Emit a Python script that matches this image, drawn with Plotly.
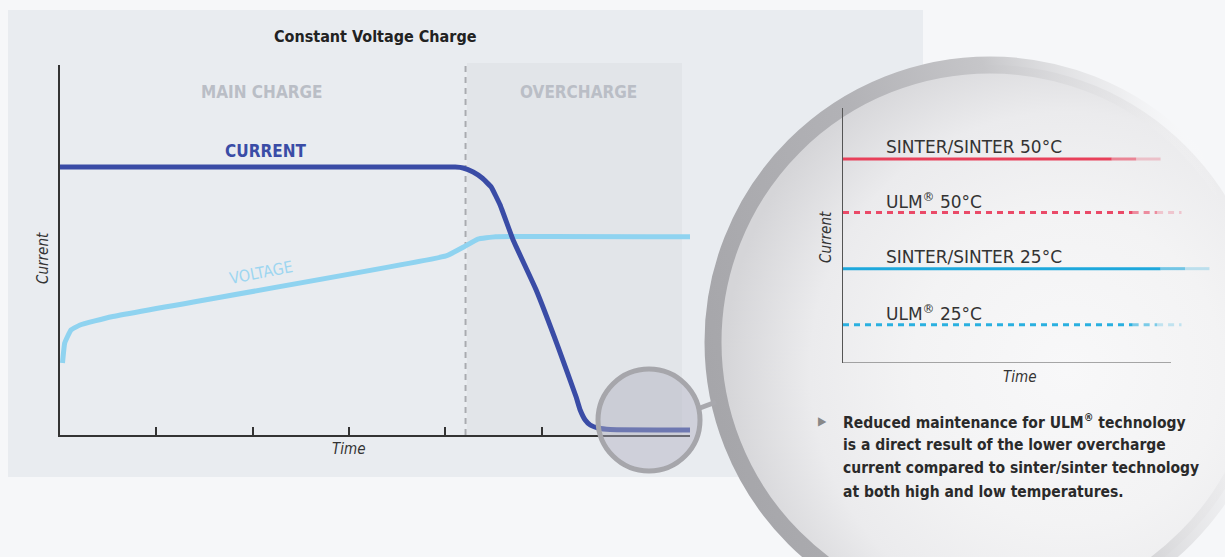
import base64
import plotly.graph_objects as go

W, H = 1225, 557

# ---------------- data ----------------
# main chart (time units, current/voltage units)
current_t = [0.0, 4.102, 4.185, 4.289, 4.382, 4.476, 4.569, 4.704, 4.943, 5.171, 5.358, 5.400, 5.452, 5.504, 5.587, 5.711, 6.54]
current_v = [7.24, 7.24, 7.216, 7.108, 6.946, 6.703, 6.216, 5.270, 3.919, 2.378, 1.027, 0.676, 0.405, 0.270, 0.189, 0.149, 0.135]
voltage_t = [0.026, 0.049, 0.114, 0.208, 0.536, 4.008, 4.195, 4.338, 4.522, 6.54]
voltage_v = [1.946, 2.486, 2.838, 2.973, 3.197, 4.838, 5.089, 5.297, 5.359, 5.359]
time_ticks = [1, 2, 3, 4, 5]
phase_boundary = 4.21
phase_labels = ["MAIN CHARGE", "OVERCHARGE"]

# zoomed overcharge chart
zoom_series = ["SINTER/SINTER 50°C", "ULM<sup>®</sup> 50°C", "SINTER/SINTER 25°C", "ULM<sup>®</sup> 25°C"]
zoom_levels = [0.80, 0.59, 0.37, 0.15]
zoom_ends = [0.91, 0.97, 1.05, 0.97]
zoom_colors = ["#e8405a", "#ea4a68", "#1ea8dc", "#2ab0e0"]
zoom_dash = ["solid", "6px,5px", "solid", "6px,5px"]

note_lines = [
    "Reduced maintenance for ULM<sup>®</sup> technology",
    "is a direct result of the lower overcharge",
    "current compared to sinter/sinter technology",
    "at both high and low temperatures.",
]

FONT = "DejaVu Sans Condensed, Roboto, sans-serif"
FONT_R = "DejaVu Sans, Roboto, sans-serif"


def px(x):
    return x / W


def py(y):
    return 1 - y / H


def circ(cx, cy, r, **kw):
    d = dict(type="circle", xref="paper", yref="paper",
             x0=px(cx - r), x1=px(cx + r), y0=py(cy + r), y1=py(cy - r))
    d.update(kw)
    return d


# decorative background: panel, overcharge band, big magnifier with gradients
svg = f"""<svg xmlns='http://www.w3.org/2000/svg' width='{W}' height='{H}' viewBox='0 0 {W} {H}'>
<defs>
<radialGradient id='g' cx='0.64' cy='0.55' r='0.62'>
<stop offset='0' stop-color='#f8f8f9'/>
<stop offset='0.45' stop-color='#f3f3f4'/>
<stop offset='0.75' stop-color='#ebebed'/>
<stop offset='1' stop-color='#d5d5d8'/>
</radialGradient>
<linearGradient id='rg' x1='0' y1='0.6' x2='1' y2='0.35'>
<stop offset='0' stop-color='#a6a6aa'/>
<stop offset='0.35' stop-color='#b2b2b6'/>
<stop offset='0.6' stop-color='#c6c6c9'/>
<stop offset='0.82' stop-color='#e4e4e6' stop-opacity='0.5'/>
<stop offset='0.95' stop-color='#ffffff' stop-opacity='0'/>
</linearGradient>
</defs>
<rect x='0' y='0' width='{W}' height='{H}' fill='#f6f7f9'/>
<rect x='8' y='10' width='915' height='467' fill='#e9ecf0'/>
<rect x='467' y='63' width='215' height='372' fill='#e2e5e9'/>
<circle cx='990' cy='342' r='277' fill='url(#g)' stroke='url(#rg)' stroke-width='17'/>
</svg>"""
svg_uri = "data:image/svg+xml;base64," + base64.b64encode(svg.encode()).decode()

fig = go.Figure()

shapes = []
# dashed phase boundary
shapes.append(dict(type="line", xref="x", yref="y", x0=phase_boundary, x1=phase_boundary, y0=0, y1=10,
                   line=dict(color="#a9abb0", width=2, dash="6px,5px"), layer="below"))
# zoom chart x-axis line
shapes.append(dict(type="line", xref="x2", yref="y2", x0=0, x1=0.94, y0=0, y1=0,
                   line=dict(color="#555", width=1.2)))
# small lens circle + connector
shapes.append(dict(type="line", xref="paper", yref="paper", x0=px(700), x1=px(716), y0=py(408), y1=py(402),
                   line=dict(color="#a8a8ad", width=5), layer="above"))
shapes.append(circ(649, 420, 51, fillcolor="rgba(175,175,190,0.45)",
                   line=dict(color="#a6a6ab", width=5), layer="above"))

# ---------------- traces ----------------
fig.add_trace(go.Scatter(x=voltage_t, y=voltage_v, mode="lines",
                         line=dict(color="#8fd3f0", width=5, shape="spline", smoothing=0.3),
                         hoverinfo="skip", showlegend=False))
fig.add_trace(go.Scatter(x=current_t, y=current_v, mode="lines",
                         line=dict(color="#3a4ca6", width=5, shape="spline", smoothing=0.3),
                         hoverinfo="skip", showlegend=False))

for name, lvl, end, col, dash in zip(zoom_series, zoom_levels, zoom_ends, zoom_colors, zoom_dash):
    segs = [(0.0, end - 0.14, 1.0), (end - 0.14, end - 0.07, 0.6), (end - 0.07, end, 0.25)]
    for a, b, op in segs:
        fig.add_trace(go.Scatter(x=[a, b], y=[lvl, lvl], xaxis="x2", yaxis="y2", mode="lines",
                                 line=dict(color=col, width=3, dash=dash), opacity=op,
                                 hoverinfo="skip", showlegend=False))


def ann(text, x, y, size, color, family=FONT, **kw):
    d = dict(text=text, xref="paper", yref="paper", x=px(x), y=py(y), xanchor="center", yanchor="middle",
             showarrow=False, font=dict(family=family, size=size, color=color))
    d.update(kw)
    return d


annotations = [
    ann("<b>Constant Voltage Charge</b>", 375, 37, 16, "#222"),
    ann("<b>" + phase_labels[0] + "</b>", 262, 92, 17, "#babec6"),
    ann("<b>" + phase_labels[1] + "</b>", 578, 92, 17, "#babec6"),
    ann("<b>CURRENT</b>", 265, 151, 17, "#3a4ca6"),
    ann("VOLTAGE", 261, 272, 16, "#9dd6f0", textangle=-11),
    ann("<i>Current</i>", 43, 258, 15, "#333", textangle=-90),
    ann("<i>Time</i>", 349, 449, 15, "#333"),
    ann("<i>Current</i>", 826, 237, 15, "#333", textangle=-90),
    ann("<i>Time</i>", 1019, 377, 15, "#333"),
    ann("▶", 822, 421, 12, "#888"),
]

# zoom chart labels
for name, lvl in zip(zoom_series, zoom_levels):
    annotations.append(dict(text=name, xref="x2", yref="y2", x=0.118, y=lvl, yshift=12, xanchor="left",
                            yanchor="middle", showarrow=False, font=dict(family=FONT_R, size=17, color="#333")))

# note
for i, line in enumerate(note_lines):
    annotations.append(ann("<b>" + line + "</b>", 841, 421 + 23.7 * i, 15.5, "#2a2a2a", xanchor="left"))

fig.update_layout(
    width=W, height=H,
    margin=dict(l=0, r=0, t=0, b=0),
    paper_bgcolor="#f6f7f9",
    plot_bgcolor="rgba(0,0,0,0)",
    shapes=shapes,
    annotations=annotations,
    images=[dict(source=svg_uri, xref="paper", yref="paper", x=0, y=1, sizex=1, sizey=1,
                 xanchor="left", yanchor="top", sizing="stretch", layer="below")],
    xaxis=dict(domain=[px(60), px(690)], range=[0, 6.54], showgrid=False, zeroline=False,
               showline=True, linecolor="#333", linewidth=1.5, ticks="inside", ticklen=8, tickwidth=1.5,
               tickcolor="#333", tickvals=time_ticks, showticklabels=False, fixedrange=True),
    yaxis=dict(domain=[py(435), py(65)], range=[0, 10], showgrid=False, zeroline=False,
               showline=True, linecolor="#333", linewidth=1.5, ticks="", showticklabels=False, fixedrange=True),
    xaxis2=dict(domain=[px(843), px(1215)], range=[0, 1.066], anchor="y2", showgrid=False, zeroline=False,
                showline=False, ticks="", showticklabels=False, fixedrange=True),
    yaxis2=dict(domain=[py(363), py(108)], range=[0, 1], anchor="x2", showgrid=False, zeroline=False,
                showline=True, linecolor="#555", linewidth=1.2, ticks="", showticklabels=False, fixedrange=True),
)

fig.write_html("out.html", config={"displayModeBar": False},
               post_script="document.body.style.margin='0';")
